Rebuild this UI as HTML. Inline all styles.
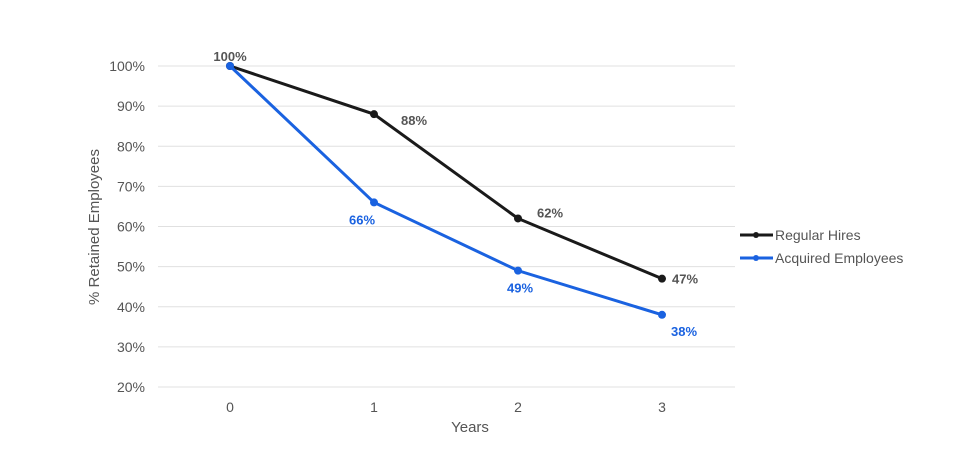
<!DOCTYPE html>
<html><head><meta charset="utf-8"><style>
body{margin:0;background:#fff;}
svg text{font-family:"Liberation Sans",sans-serif;}
</style></head><body>
<svg id="chart" width="975" height="448" viewBox="0 0 975 448" xmlns="http://www.w3.org/2000/svg"></svg>
<script>
const categories = ["0","1","2","3"];
const regularHires = [100, 88, 62, 47];
const acquiredEmployees = [100, 66, 49, 38];
const yTicks = [20,30,40,50,60,70,80,90,100];
const regularLabels = ["100%","88%","62%","47%"];
const acquiredLabels = ["","66%","49%","38%"];

const svg = document.getElementById('chart');
const NS = "http://www.w3.org/2000/svg";
function x(i){ return 230 + i*144; }
function y(v){ return 387 - (v-20)*(321/80); }
function mk(tag, attrs, text){
  const e = document.createElementNS(NS, tag);
  for (const k in attrs) e.setAttribute(k, attrs[k]);
  if (text !== undefined) e.textContent = text;
  svg.appendChild(e);
  return e;
}
yTicks.forEach(t=>{
  const g = mk('line',{x1:158,x2:735,y1:y(t),y2:y(t),stroke:'#e0e0e0','stroke-width':1});
  
  
  const l = mk('text',{x:145,y:y(t)+5,'text-anchor':'end','font-size':14,fill:'#555'}, t+'%');
  
  
});
categories.forEach((c,i)=>{
  const l = mk('text',{x:x(i),y:412,'text-anchor':'middle','font-size':14,fill:'#555'}, c);
  
  
});
const xt = mk('text',{x:470,y:432,'text-anchor':'middle','font-size':15,fill:'#555'},'Years');


const yt = mk('text',{x:0,y:0,'text-anchor':'middle','font-size':15,fill:'#555',transform:'translate(99,227) rotate(-90)'},'% Retained Employees');



function series(vals,color,name){
  const pts = vals.map((v,i)=>x(i)+','+y(v)).join(' ');
  const pl = mk('polyline',{points:pts,fill:'none',stroke:color,'stroke-width':3});
  
  
  vals.forEach((v,i)=>{
    const c = mk('circle',{cx:x(i),cy:y(v),r:4,fill:color});
    
    
  });
}
series(regularHires,'#1a1a1a','regular-hires');
series(acquiredEmployees,'#1a62e0','acquired-employees');

const rOff=[[0,-10],[40,6],[32,-6],[23,0]];
regularHires.forEach((v,i)=>{
  const t = mk('text',{x:x(i)+rOff[i][0],y:y(v)+rOff[i][1]+5,'text-anchor':'middle','font-size':13,'font-weight':'bold',fill:'#555'},regularLabels[i]);
  
  
});
const aOff=[[0,0],[-12,22],[2,22],[22,21]];
acquiredEmployees.forEach((v,i)=>{
  if(!acquiredLabels[i]) return;
  const t = mk('text',{x:x(i)+aOff[i][0],y:y(v)+aOff[i][1],'text-anchor':'middle','font-size':13,'font-weight':'bold',fill:'#1a62e0'},acquiredLabels[i]);
  
  
});

[['Regular Hires','#1a1a1a',235],['Acquired Employees','#1a62e0',258]].forEach(([n,c,yy],i)=>{
  const l = mk('line',{x1:740,x2:773,y1:yy,y2:yy,stroke:c,'stroke-width':3});
  
  
  const d = mk('circle',{cx:756,cy:yy,r:3,fill:c});
  
  
  const t = mk('text',{x:775,y:yy+5,'font-size':14,fill:'#555'},n);
  
  
});
</script>
</body></html>
